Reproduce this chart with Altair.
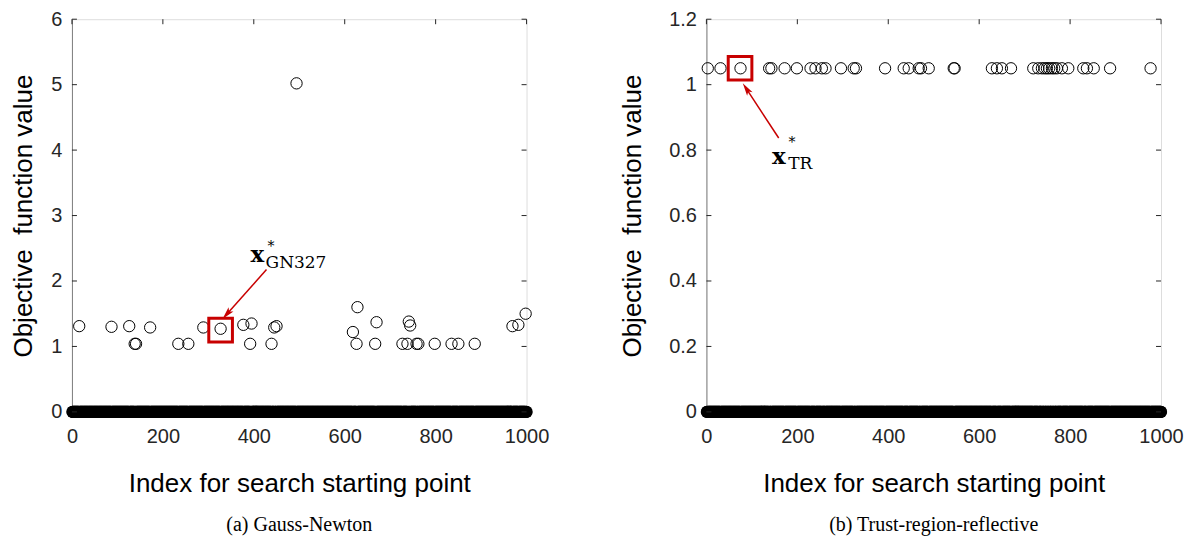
import altair as alt
import pandas as pd

N_STARTS = 1000

# (a) Gauss-Newton: starting points whose objective value is not ~0
gn_index = [16, 87, 126, 138, 141, 172, 234, 256, 289, 327, 377, 392, 395, 439, 445, 450, 494,
            618, 626, 628, 667, 670, 727, 738, 741, 744, 758, 762, 798, 835, 850, 886, 969, 982, 998]
gn_value = [1.31, 1.30, 1.31, 1.04, 1.04, 1.29, 1.04, 1.04, 1.29, 1.27, 1.33, 1.04, 1.35, 1.04, 1.29, 1.31, 5.02,
            1.22, 1.04, 1.60, 1.04, 1.37, 1.04, 1.04, 1.38, 1.32, 1.04, 1.04, 1.04, 1.04, 1.04, 1.04, 1.31, 1.33, 1.50]

# (b) Trust-region-reflective
tr_index = [3, 31, 75, 138, 143, 172, 199, 229, 240, 254, 262, 296, 324, 329, 393, 434, 445, 467, 472, 489,
            544, 546, 628, 639, 650, 670, 719, 730, 738, 744, 749, 754, 760, 765, 771, 782, 796, 829, 837, 852,
            888, 977]
tr_value = [1.05] * len(tr_index)

x_ticks = [0, 200, 400, 600, 800, 1000]
gn_y_ticks = [0, 1, 2, 3, 4, 5, 6]
tr_y_ticks = [0, 0.2, 0.4, 0.6, 0.8, 1, 1.2]

# annotations (data units)
gn_mark = {"x": 327, "y": 1.25}
gn_arrow = {"x1": 428, "y1": 2.175, "x2": 340.5, "y2": 1.4925, "angle": 221}
gn_label = {"x": 393, "y": 2.284, "sx": 438, "sy": 2.545, "subx": 426, "suby": 2.20, "sub": "GN327"}

tr_mark = {"x": 74, "y": 1.05}
tr_arrow = {"x1": 159, "y1": 0.837, "x2": 87.8, "y2": 0.988, "angle": 327}
tr_label = {"x": 144.4, "y": 0.757, "sx": 188, "sy": 0.827, "subx": 180, "suby": 0.742, "sub": "TR"}

W, H = 455, 393
AX = "#262626"
BORDER = "#808080"
RED = "#C80000"
ARROW_PATH = "M0,-1L-0.5,1L0,0.55L0.5,1Z"


def panel(idx, val, ymax, yticks, mark, arrow, label, caption, title_pad):
    nonzero = set(idx)
    zero_idx = [i for i in range(1, N_STARTS + 1) if i not in nonzero]
    df_zero = pd.DataFrame({"i": zero_idx, "v": [0.0] * len(zero_idx)})
    df_pts = pd.DataFrame({"i": idx, "v": val})

    xs = alt.Scale(domain=[0, 1000], nice=False, zero=False)
    ys = alt.Scale(domain=[0, ymax], nice=False)

    x_enc = alt.X("i:Q", scale=xs, axis=alt.Axis(
        values=x_ticks, format="d", title="Index for search starting point", ticks=False, grid=False,
        domainColor=BORDER, labelFontSize=20, labelFont="Liberation Sans", labelColor=AX,
        labelPadding=15, titleFontSize=26, titleFont="Liberation Sans", titleFontWeight="normal",
        titleColor="#000000", titlePadding=24, labelFlush=False))
    y_enc = alt.Y("v:Q", scale=ys, axis=alt.Axis(
        values=yticks, format="~g", title="Objective\u00a0 function value", ticks=False, grid=False,
        domainColor=BORDER, labelFontSize=20, labelFont="Liberation Sans", labelColor=AX,
        labelPadding=10, titleFontSize=26, titleFont="Liberation Sans", titleFontWeight="normal",
        titleColor="#000000", titlePadding=title_pad, labelFlush=False))

    zeros = alt.Chart(df_zero).mark_point(
        shape="circle", filled=True, color="#000000", size=150, opacity=1, clip=False
    ).encode(x=x_enc, y=y_enc)

    pts = alt.Chart(df_pts).mark_point(
        shape="circle", filled=False, color="#000000", size=128, strokeWidth=1, opacity=1, clip=False
    ).encode(x="i:Q", y="v:Q")

    df_yt = pd.DataFrame({"v": yticks})
    df_xt = pd.DataFrame({"i": x_ticks})
    tick_l = alt.Chart(df_yt).mark_rule(color=AX, strokeWidth=1).encode(
        y="v:Q", x=alt.value(0), x2=alt.value(5))
    tick_r = alt.Chart(df_yt).mark_rule(color=AX, strokeWidth=1).encode(
        y="v:Q", x=alt.value(W - 5), x2=alt.value(W))
    tick_t = alt.Chart(df_xt).mark_rule(color=AX, strokeWidth=1).encode(
        x="i:Q", y=alt.value(0), y2=alt.value(5))

    df_mark = pd.DataFrame([mark])
    box = alt.Chart(df_mark).mark_point(
        shape="square", filled=False, stroke=RED, strokeWidth=3, size=560, opacity=1, clip=False
    ).encode(x="x:Q", y="y:Q")

    df_arrow = pd.DataFrame([arrow])
    line = alt.Chart(df_arrow).mark_rule(color=RED, strokeWidth=1.5).encode(
        x="x1:Q", y="y1:Q", x2="x2:Q", y2="y2:Q")
    head = alt.Chart(df_arrow).mark_point(
        shape=ARROW_PATH, filled=True, color=RED, size=169, opacity=1, angle=arrow["angle"]
    ).encode(x="x2:Q", y="y2:Q")

    df_lab = pd.DataFrame([{"x": label["x"], "y": label["y"], "t": "x"}])
    df_star = pd.DataFrame([{"x": label["sx"], "y": label["sy"], "t": "*"}])
    df_sub = pd.DataFrame([{"x": label["subx"], "y": label["suby"], "t": label["sub"]}])
    t_x = alt.Chart(df_lab).mark_text(
        font="DejaVu Serif", fontWeight="bold", fontSize=23, align="left", baseline="alphabetic", color="#000000"
    ).encode(x="x:Q", y="y:Q", text="t:N")
    t_star = alt.Chart(df_star).mark_text(
        font="DejaVu Serif", fontSize=14, align="center", baseline="middle", color="#000000", dy=2
    ).encode(x="x:Q", y="y:Q", text="t:N")
    t_sub = alt.Chart(df_sub).mark_text(
        font="DejaVu Serif", fontSize=17, align="left", baseline="alphabetic", color="#000000"
    ).encode(x="x:Q", y="y:Q", text="t:N")

    return alt.layer(zeros, pts, tick_l, tick_r, tick_t, line, head, box, t_x, t_star, t_sub).properties(
        width=W, height=H,
        title=alt.TitleParams(text=caption, orient="bottom", anchor="middle", font="Liberation Serif",
                              fontSize=20, fontWeight="normal", color="#000000", offset=18),
    )


left = panel(gn_index, gn_value, 6, gn_y_ticks, gn_mark, gn_arrow, gn_label, "(a) Gauss-Newton", 14)
right = panel(tr_index, tr_value, 1.2, tr_y_ticks, tr_mark, tr_arrow, tr_label, "(b) Trust-region-reflective", 23)

chart = alt.hconcat(left, right, spacing=180, bounds="flush").configure_view(
    stroke=BORDER, strokeWidth=1
).configure(background="white", padding={"left": 2, "top": 0, "right": 2, "bottom": 2})

chart.save("out.html", embed_options={"renderer": "svg", "actions": False})
